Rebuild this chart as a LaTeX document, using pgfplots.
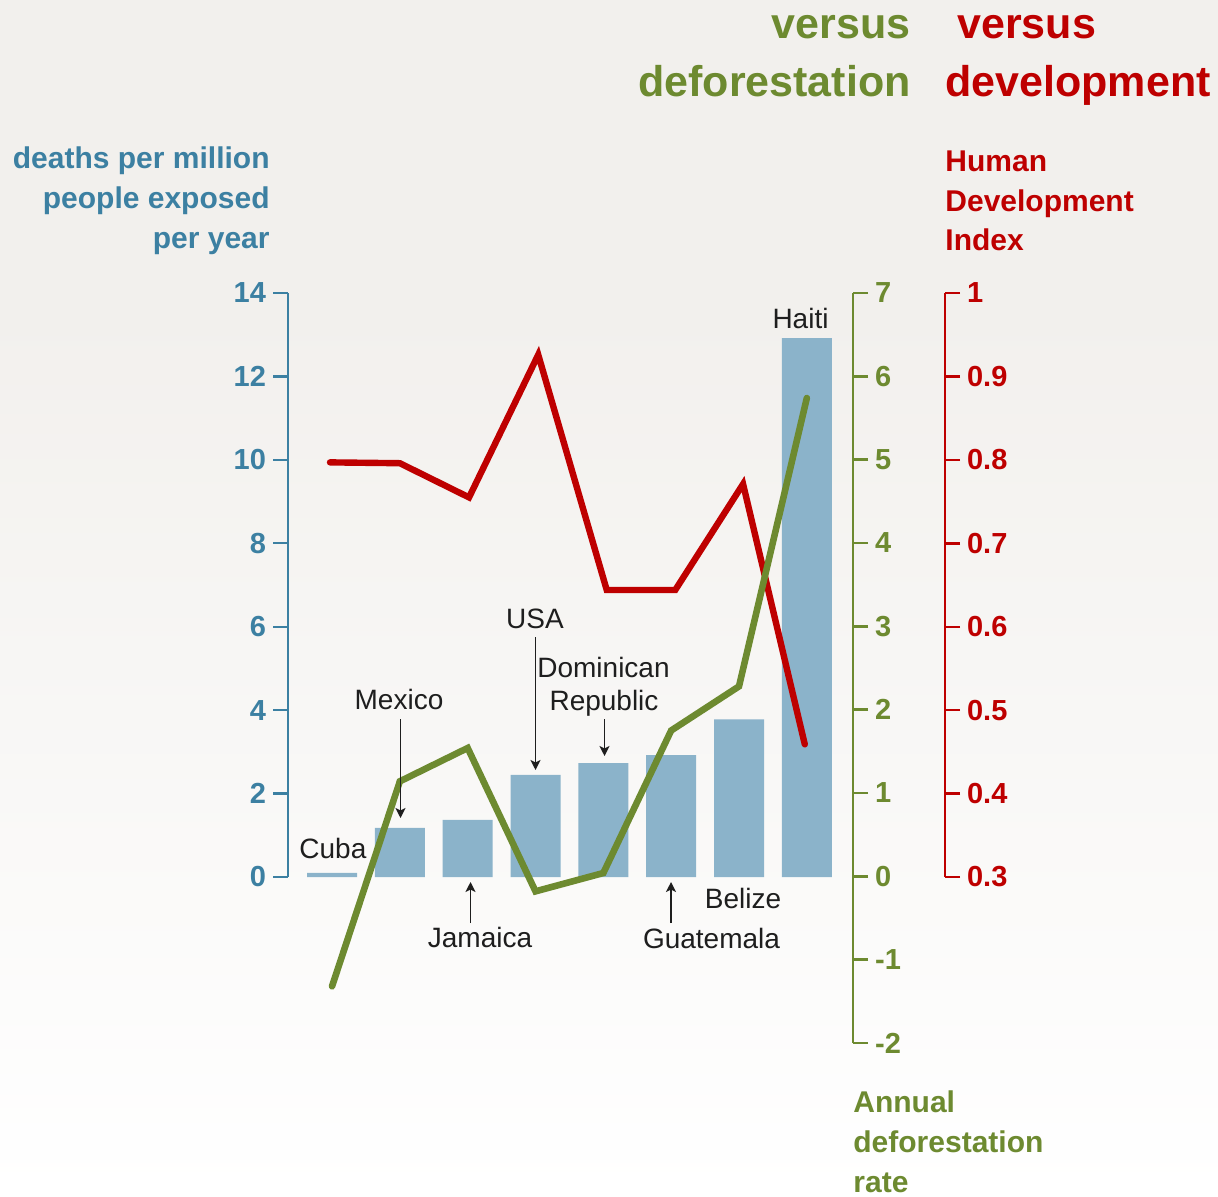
\documentclass[border=0pt]{standalone}
\usepackage{pgfplots}
\pgfplotsset{compat=1.18}
\usepackage{fontspec}
\setmainfont{Liberation Sans}
\usetikzlibrary{arrows.meta}
\definecolor{cblue}{HTML}{3C80A2}
\definecolor{cbar}{HTML}{8BB3CA}
\definecolor{cgreen}{HTML}{6D8A30}
\definecolor{cred}{HTML}{BE0000}
\definecolor{bgtop}{HTML}{F2F0ED}
\definecolor{ctext}{HTML}{1E1E1E}
\pgfdeclareverticalshading{bgshade}{100bp}{color(0bp)=(white); color(25bp)=(white); color(62bp)=(bgtop); color(100bp)=(bgtop)}
\newcommand{\tickfont}{\bfseries\fontsize{14.5}{16}\selectfont}
\newcommand{\titlefont}{\bfseries\fontsize{15}{18}\selectfont}
\newcommand{\bigfont}{\bfseries\fontsize{21.5}{25}\selectfont}
\newcommand{\cfont}{\fontsize{14}{16}\selectfont}
\begin{document}
\begin{tikzpicture}
\path[use as bounding box] (0,0) rectangle (609pt,598pt);
\shade[shading=bgshade] (0,0) rectangle (609pt,598pt);
% ---------- blue axis (bars) ----------
\begin{axis}[
  at={(144pt,159.5pt)}, anchor=south west,
  scale only axis, width=282.5pt, height=292pt,
  xmin=-0.649, xmax=7.681, ymin=0, ymax=14,
  axis x line=none, axis y line*=left,
  axis line style={-, draw=cblue, line width=1.2pt},
  ytick={0,2,4,6,8,10,12,14},
  yticklabels={0,2,4,6,8,10,12,14},
  tick align=outside, major tick length=7.5pt,
  y tick style={draw=cblue, line width=1.2pt},
  yticklabel style={font=\tickfont, text=cblue},
  clip=false,
]
\addplot[ybar, bar width=25pt, fill=cbar, draw=none] coordinates {
  (0,0.10) (1,1.18) (2,1.37) (3,2.45) (4,2.73) (5,2.92) (6,3.78) (7,12.92)};
\end{axis}
% ---------- red axis (HDI) ----------
\begin{axis}[
  at={(144pt,159.5pt)}, anchor=south west,
  scale only axis, width=328.5pt, height=292pt,
  xmin=-0.649, xmax=9.037, ymin=0.3, ymax=1,
  axis x line=none, axis y line*=right,
  axis line style={-, draw=cred, line width=1.2pt},
  ytick={0.3,0.4,0.5,0.6,0.7,0.8,0.9,1},
  yticklabels={0.3,0.4,0.5,0.6,0.7,0.8,0.9,1},
  tick align=outside, major tick length=7.5pt,
  y tick style={draw=cred, line width=1.2pt},
  yticklabel style={font=\tickfont, text=cred},
  clip=false,
]
\addplot[cred, line width=3.2pt, line cap=round, line join=miter, mark=none] coordinates {
  (-0.03,0.797) (1.0,0.796) (2.02,0.755) (3.04,0.926) (4.05,0.644) (5.06,0.644) (6.06,0.771) (6.97,0.459)};
\end{axis}
% ---------- green axis (deforestation) ----------
\begin{axis}[
  at={(144pt,76.5pt)}, anchor=south west,
  scale only axis, width=282.5pt, height=375pt,
  xmin=-0.649, xmax=7.681, ymin=-2, ymax=7,
  axis x line=none, axis y line*=right,
  axis line style={-, draw=cgreen, line width=1.2pt},
  ytick={-2,-1,0,1,2,3,4,5,6,7},
  yticklabels={-2,-1,0,1,2,3,4,5,6,7},
  tick align=outside, major tick length=7.5pt,
  y tick style={draw=cgreen, line width=1.2pt},
  yticklabel style={font=\tickfont, text=cgreen},
  clip=false,
]
\addplot[cgreen, line width=3.3pt, line cap=round, line join=miter, mark=none] coordinates {
  (0,-1.32) (1,1.14) (2,1.54) (3,-0.18) (4,0.04) (5,1.75) (6,2.28) (7,5.74)};
\end{axis}
% ---------- annotations (pixel units) ----------
\begin{scope}[x=0.5pt,y=0.5pt]
  % titles
  \node[anchor=base east, inner sep=0, text=cgreen, font=\bigfont] at (911,1157) {versus};
  \node[anchor=base east, inner sep=0, text=cgreen, font=\bigfont] at (911,1099) {deforestation};
  \node[anchor=base west, inner sep=0, text=cred, font=\bigfont] at (957,1157) {versus};
  \node[anchor=base west, inner sep=0, text=cred, font=\bigfont] at (945,1099) {development};
  % blue axis title
  \node[anchor=base east, inner sep=0, text=cblue, font=\titlefont] at (270,1027) {deaths per million};
  \node[anchor=base east, inner sep=0, text=cblue, font=\titlefont] at (270,987) {people exposed};
  \node[anchor=base east, inner sep=0, text=cblue, font=\titlefont] at (270,947) {per year};
  % red axis title
  \node[anchor=base west, inner sep=0, text=cred, font=\titlefont] at (945,1024) {Human};
  \node[anchor=base west, inner sep=0, text=cred, font=\titlefont] at (945,984) {Development};
  \node[anchor=base west, inner sep=0, text=cred, font=\titlefont] at (945,945) {Index};
  % green axis title
  \node[anchor=base west, inner sep=0, text=cgreen, font=\titlefont] at (853,84) {Annual};
  \node[anchor=base west, inner sep=0, text=cgreen, font=\titlefont] at (853,44) {deforestation};
  \node[anchor=base west, inner sep=0, text=cgreen, font=\titlefont] at (853,4) {rate};
  % country labels
  \node[anchor=base west, inner sep=0, text=ctext, font=\cfont] at (299,338) {Cuba};
  \node[anchor=base, inner sep=0, text=ctext, font=\cfont] at (399,487) {Mexico};
  \node[anchor=base, inner sep=0, text=ctext, font=\cfont] at (480,249) {Jamaica};
  \node[anchor=base, inner sep=0, text=ctext, font=\cfont] at (535,568) {USA};
  \node[anchor=base, inner sep=0, text=ctext, font=\cfont] at (603.5,519) {Dominican};
  \node[anchor=base, inner sep=0, text=ctext, font=\cfont] at (604,486) {Republic};
  \node[anchor=base, inner sep=0, text=ctext, font=\cfont] at (711.5,248) {Guatemala};
  \node[anchor=base, inner sep=0, text=ctext, font=\cfont] at (743,288) {Belize};
  \node[anchor=base, inner sep=0, text=ctext, font=\cfont] at (800.5,867) {Haiti};
  % arrows
  \begin{scope}[ctext, line width=0.9pt, -{Stealth[length=5pt,width=5pt,inset=1.2pt]}]
    \draw (400.5,477) -- (400.5,378);
    \draw (470.5,273) -- (470.5,314);
    \draw (535.5,559) -- (535.5,426);
    \draw (604.5,477) -- (604.5,440);
    \draw (671,273) -- (671,314);
  \end{scope}
\end{scope}
\end{tikzpicture}
\end{document}
